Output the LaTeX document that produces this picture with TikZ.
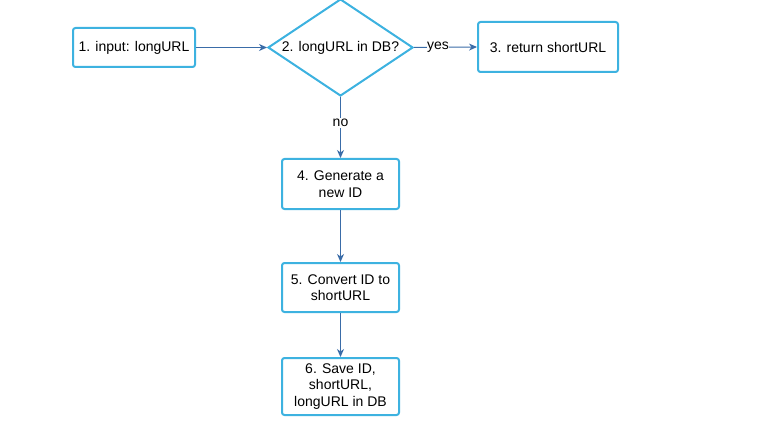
\documentclass[tikz,border=0pt]{standalone}
\usepackage{fontspec}
\setmainfont{Liberation Sans}
\usetikzlibrary{shapes.geometric,arrows.meta}
\definecolor{boxc}{HTML}{3DB2E0}
\definecolor{arrc}{HTML}{3A6CA8}
\tikzset{
  x=1pt,y=-1pt,
  every node/.style={font=\fontsize{14}{16.5}\selectfont, text=black},
  stepbox/.style={draw=boxc, line width=2pt, rounded corners=2.5pt, align=center, inner sep=0pt},
  conn/.style={draw=arrc, line width=1pt, -{Stealth[length=8pt,width=7pt,inset=2.5pt]}},
  lbl/.style={fill=white, inner sep=1pt}
}
\begin{document}
\begin{tikzpicture}
\useasboundingbox (0,0) rectangle (779,433);
\node[stepbox, minimum width=122pt, minimum height=39pt] (n1) at (134,47.5) {1. input: longURL};
\node[draw=boxc, line width=2pt, diamond, minimum width=145pt, minimum height=97pt, inner sep=0pt] (n2) at (340.5,47.5) {};
\node at (n2.center) {2. longURL in DB?};
\node[stepbox, minimum width=140pt, minimum height=50pt] (n3) at (548,47) {3. return shortURL};
\node[stepbox, minimum width=117pt, minimum height=50pt] (n4) at (340.5,184) {4. Generate a\\new ID};
\node[stepbox, minimum width=117pt, minimum height=49pt] (n5) at (340.5,287.5) {5. Convert ID to\\shortURL};
\node[stepbox, minimum width=117pt, minimum height=57pt] (n6) at (340.5,386.5) {6. Save ID,\\shortURL,\\longURL in DB};
\draw[conn] (n1.east) -- (n2.west);
\draw[conn] (n2.east) -- node[lbl, pos=0.38, inner sep=0.5pt] {yes} (n3.west);
\draw[conn] (n2.south) -- node[lbl, pos=0.43] {no} (n4.north);
\draw[conn] (n4.south) -- (n5.north);
\draw[conn] (n5.south) -- (n6.north);
\end{tikzpicture}
\end{document}
